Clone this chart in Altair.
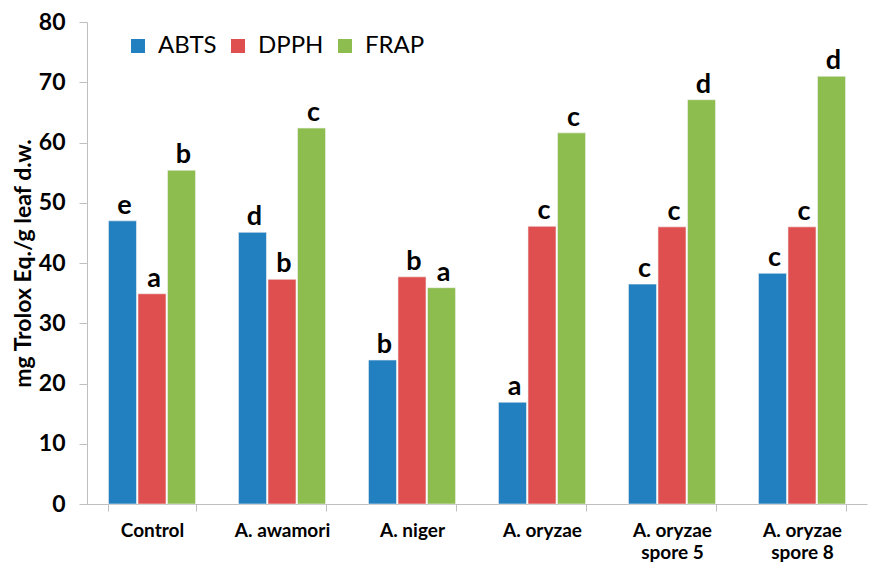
import altair as alt
import pandas as pd

categories = ["Control", "A. awamori", "A. niger", "A. oryzae",
              "A. oryzae|spore 5", "A. oryzae|spore 8"]
series = ["ABTS", "DPPH", "FRAP"]
abts = [47.0, 45.1, 23.9, 16.9, 36.5, 38.3]
dpph = [34.9, 37.3, 37.7, 46.1, 46.0, 46.0]
frap = [55.4, 62.4, 35.9, 61.6, 67.1, 71.0]
abts_letters = ["e", "d", "b", "a", "c", "c"]
dpph_letters = ["a", "b", "b", "c", "c", "c"]
frap_letters = ["b", "c", "a", "c", "d", "d"]
colors = ["#2380c0", "#df4f4f", "#8dbd4f"]

rows = []
for s, vals, lets in zip(series, [abts, dpph, frap], [abts_letters, dpph_letters, frap_letters]):
    for c, v, l in zip(categories, vals, lets):
        rows.append({"category": c, "series": s, "value": v, "letter": l})
df = pd.DataFrame(rows)

FONT = "Lato"

base = alt.Chart(df).encode(
    x=alt.X("category:N", sort=categories,
            scale=alt.Scale(paddingInner=0.33, paddingOuter=0.165),
            axis=alt.Axis(title=None, labelAngle=0,
                          labelExpr="isValid(datum.value) ? split(datum.value, '|') : ''",
                          tickBand="extent", tickSize=7, labelPadding=10,
                          labelFont=FONT, labelFontSize=19, labelFontWeight="bold",
                          labelLineHeight=22, labelColor="#000000",
                          domainColor="#bfbfbf", tickColor="#bfbfbf", grid=False)),
    xOffset=alt.XOffset("series:N", sort=series, scale=alt.Scale(paddingInner=0.05)),
    y=alt.Y("value:Q", scale=alt.Scale(domain=[0, 80]),
            axis=alt.Axis(title="mg Trolox Eq./g leaf d.w.", values=list(range(0, 81, 10)),
                          labelFont=FONT, labelFontSize=23, labelFontWeight="bold",
                          labelColor="#000000", labelPadding=14, tickSize=8,
                          domainColor="#bfbfbf", tickColor="#bfbfbf", grid=False,
                          titleFont=FONT, titleFontSize=23, titleFontWeight="bold",
                          titleColor="#000000", titlePadding=3)),
)

bars = base.mark_bar(stroke="#f4f4f4", strokeWidth=0.6).encode(
    color=alt.Color("series:N", sort=series,
                    scale=alt.Scale(domain=series, range=colors),
                    legend=alt.Legend(title=None, orient="none", legendX=39, legendY=12,
                                      direction="horizontal", symbolType="square",
                                      symbolSize=196, symbolStrokeWidth=0,
                                      labelFont=FONT, labelFontSize=24,
                                      labelColor="#000000", labelOffset=8,
                                      columnPadding=9))
)

text = base.mark_text(baseline="bottom", dy=-1, dx=2, font=FONT, fontWeight="bold",
                      fontSize=27, color="#000000").encode(text="letter:N")

chart = alt.layer(bars, text).properties(
    width=780, height=482,
    autosize=alt.AutoSizeParams(type="none"),
    padding={"left": 79, "top": 14, "right": 3, "bottom": 62},
).configure_view(stroke=None)

chart.save("out.html", embed_options={"renderer": "svg", "actions": False})
